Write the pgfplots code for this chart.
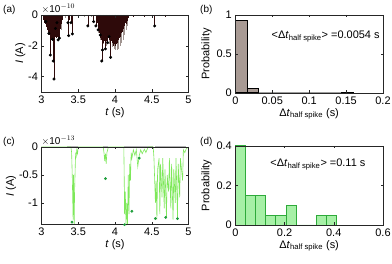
\documentclass[border=0pt]{standalone}
\usepackage{pgfplots}
\pgfplotsset{compat=1.18}
\usepackage{amsmath}
\usepackage{fontspec}
\setmainfont{Liberation Sans}
\definecolor{axgray}{HTML}{262626}
\definecolor{darkbrown}{HTML}{2E0A0A}
\definecolor{greybrown}{HTML}{A09490}
\definecolor{barb}{HTML}{A89A94}
\definecolor{lgreen}{HTML}{7EE85A}
\definecolor{dgreen}{HTML}{1E9E3C}
\definecolor{barg}{HTML}{A6F0A6}
\definecolor{edgeg}{HTML}{2EAA3A}
\pgfplotsset{
  myax/.style={
    scale only axis,
    anchor=south west,
    axis line style={axgray, line width=0.5pt},
    tick style={axgray, line width=0.4pt},
    tick align=inside,
    major tick length=2.5bp,
    xtick pos=both, ytick pos=both,
    tick label style={font=\fontsize{11}{12}\selectfont, black},
    label style={font=\fontsize{11}{12}\selectfont, black},
    /pgf/number format/assume math mode=true,
    scaled ticks=false,
    clip=false,
    axis on top,
  }
}
\begin{document}
\begin{tikzpicture}[x=1bp,y=1bp]
\useasboundingbox (0,0) rectangle (392,264);
% ---------------- (a)
\begin{axis}[myax, at={(41.5bp,172bp)}, width=147bp, height=77bp,
  xmin=3, xmax=5, ymin=-5, ymax=0,
  xtick={3,3.5,4,4.5,5}, xticklabels={3,3.5,4,4.5,5},
  ytick={-4,-2,0}, yticklabels={-4,-2,0},
  xlabel={\textit{t} (s)}, ylabel={\textit{I} (A)},
  xlabel style={yshift=3bp}, ylabel style={yshift=-4bp}]
\addplot[greybrown, line width=0.9pt, ycomb] coordinates {
(3.78,-1.2)(3.80,-1.6)(3.84,-1.9)(3.88,-2.0)(3.92,-1.9)(3.96,-2.1)(3.99,-2.2)(4.01,-2.3)(4.03,-2.3)(4.05,-2.2)(4.07,-2.0)(4.09,-1.8)(4.11,-1.6)(4.13,-1.3)(4.15,-1.0)(4.17,-0.7)(3.10,-1.3)(3.14,-1.6)(3.20,-1.5)(3.24,-1.6)(3.27,-1.0)(3.33,-0.2)(3.50,-0.1)(3.58,-0.15)(3.68,-0.1)};
\addplot[darkbrown, line width=0.45pt, ycomb] coordinates {
(3.03,-0.3)(3.04,-0.5)(3.045,-0.2)(3.05,-0.6)(3.06,-0.43)(3.065,-0.8)(3.07,-0.5)(3.075,-0.9)(3.08,-1.0)(3.085,-0.7)(3.09,-1.1)(3.095,-0.9)(3.10,-1.19)(3.105,-1.3)(3.11,-1.0)(3.115,-1.4)(3.12,-2.6)(3.125,-1.5)(3.13,-1.2)(3.135,-1.6)(3.14,-1.3)(3.145,-1.5)(3.15,-1.58)(3.155,-2.0)(3.16,-2.99)(3.165,-1.8)(3.17,-4.16)(3.175,-1.6)(3.18,-1.4)(3.185,-1.2)(3.19,-0.87)(3.195,-1.3)(3.20,-1.5)(3.205,-1.1)(3.21,-0.5)(3.215,-1.2)(3.22,-1.4)(3.225,-1.62)(3.23,-1.1)(3.235,-1.3)(3.24,-1.0)(3.245,-1.5)(3.25,-0.9)(3.255,-0.7)(3.26,-0.8)(3.265,-0.5)(3.27,-0.6)(3.275,-0.4)(3.28,-0.3)
(3.36,-0.5)(3.37,-1.34)(3.38,-0.3)(3.40,-0.5)(3.42,-1.23)(3.63,-0.71)(3.71,-0.43)(3.74,-0.71)
(3.76,-0.5)(3.77,-0.97)(3.775,-0.6)(3.78,-1.1)(3.785,-0.8)(3.79,-1.2)(3.795,-0.9)(3.80,-1.3)(3.805,-1.5)(3.81,-1.1)(3.815,-1.6)(3.82,-2.99)(3.825,-1.4)(3.83,-2.27)(3.835,-1.7)(3.84,-1.3)(3.845,-1.8)(3.85,-1.6)(3.855,-1.2)(3.86,-1.7)(3.865,-1.4)(3.87,-2.2)(3.875,-1.5)(3.88,-1.3)(3.885,-1.7)(3.89,-1.4)(3.895,-1.6)(3.90,-1.8)(3.905,-1.3)(3.91,-1.5)(3.915,-1.2)(3.92,-1.4)(3.925,-1.6)(3.93,-1.3)(3.935,-1.5)(3.94,-2.75)(3.945,-1.4)(3.95,-1.7)(3.955,-1.5)(3.96,-1.8)(3.965,-1.6)(3.97,-1.9)(3.975,-1.7)(3.98,-2.0)(3.985,-1.8)(3.99,-1.9)(3.995,-1.6)(4.00,-2.0)(4.005,-1.8)(4.01,-1.7)(4.015,-1.9)(4.02,-1.6)(4.025,-1.8)(4.03,-1.5)(4.035,-1.7)(4.04,-1.4)(4.045,-1.6)(4.05,-1.3)(4.055,-1.5)(4.06,-1.2)(4.065,-1.4)(4.07,-1.1)(4.075,-1.3)(4.08,-1.0)(4.085,-1.2)(4.09,-0.9)(4.095,-1.1)(4.10,-0.8)(4.105,-1.0)(4.11,-0.7)(4.115,-0.9)(4.12,-0.6)(4.13,-0.7)(4.14,-0.5)(4.15,-0.6)(4.16,-0.4)(4.17,-0.3)(4.18,-0.2)
(4.25,-0.1)(4.32,-0.05)(4.40,-0.1)(4.54,-0.71)(4.60,-0.08)(4.68,-0.1)};
\addplot[darkbrown, line width=0.6pt] coordinates {(3,0)(5,0)};
\addplot[only marks, mark=*, mark size=1.3bp, black] coordinates {
(3.06,-0.43)(3.10,-1.19)(3.12,-2.6)(3.15,-1.58)(3.16,-2.99)(3.17,-4.16)(3.19,-0.87)(3.21,-0.5)(3.225,-1.62)(3.245,-1.5)
(3.36,-0.5)(3.37,-1.34)(3.40,-0.5)(3.42,-1.23)(3.63,-0.71)(3.71,-0.43)(3.74,-0.71)(3.77,-0.97)(3.80,-1.3)
(3.82,-2.99)(3.83,-2.27)(3.87,-2.2)(3.90,-1.8)(3.92,-1.4)(3.94,-2.75)(4.54,-0.71)};
\node[anchor=south west, inner sep=0pt, font=\fontsize{10}{11}\selectfont] at (rel axis cs:0,1.02) {$\times$10$^{-10}$};
\end{axis}
\node[anchor=north west, inner sep=0pt, font=\fontsize{10}{11}\selectfont] at (3,259) {(a)};
% ---------------- (b)
\begin{axis}[myax, at={(235.3bp,171bp)}, width=147.7bp, height=78bp,
  xmin=0, xmax=0.2, ymin=0, ymax=1,
  xtick={0,0.05,0.1,0.15,0.2}, xticklabels={0,0.05,0.1,0.15,0.2},
  ytick={0,0.5,1}, yticklabels={0,0.5,1},
  xlabel={Δ\textit{t}$_{\text{half spike}}$ (s)}, ylabel={Probability},
  xlabel style={yshift=3bp}, ylabel style={yshift=-2bp}]
\addplot[ybar interval, fill=barb, draw=black, line width=1pt] coordinates {
(0,0.928)(0.016,0.064)(0.032,0)(0.048,0)(0.064,0)(0.080,0)(0.096,0)(0.112,0)(0.128,0)(0.144,0.008)(0.160,0.008)};
\node[anchor=west, inner sep=0pt, font=\fontsize{11}{12}\selectfont] at (axis cs:0.049,0.72) {<Δ\textit{t}$_{\text{half spike}}$> =0.0054 s};
\end{axis}
\node[anchor=north west, inner sep=0pt, font=\fontsize{10}{11}\selectfont] at (200,259) {(b)};
% ---------------- (c)
\begin{axis}[myax, at={(41.5bp,39.3bp)}, width=147bp, height=77.7bp,
  xmin=3, xmax=5, ymin=-1.39, ymax=0,
  xtick={3,3.5,4,4.5,5}, xticklabels={3,3.5,4,4.5,5},
  ytick={-1,-0.5,0}, yticklabels={-1,-0.5,0},
  xlabel={\textit{t} (s)}, ylabel={\textit{I} (A)},
  xlabel style={yshift=3bp}, ylabel style={yshift=-4bp}]
\addplot[gray!60, line width=2pt, unbounded coords=jump] coordinates {
(3.35,0)(3.50,0)(nan,nan)(3.84,0)(3.91,0)(nan,nan)(4.12,0)(4.52,0)(nan,nan)(4.55,0)(4.97,0)};
\addplot[lgreen, line width=0.6pt] coordinates {
(3.0,0)(3.40,0)(3.41,-0.1)(3.42,-0.6)(3.43,-1.3)(3.435,-0.5)(3.44,-1.0)(3.445,-1.38)(3.45,-0.8)(3.46,-0.3)(3.465,-0.1)(3.47,-0.2)(3.48,-0.05)(3.49,-0.12)(3.50,0)
(3.84,0)(3.85,-0.1)(3.86,-0.25)(3.87,-0.12)(3.88,-0.3)(3.89,-0.1)(3.90,-0.05)(3.91,0)
(4.12,0)(4.125,-0.5)(4.13,-1.2)(4.14,-0.8)(4.15,-1.4)(4.16,-1.0)(4.17,-1.39)(4.18,-0.5)(4.19,-1.2)(4.20,-0.3)(4.21,-0.6)(4.22,-0.1)(4.23,-0.2)(4.25,-0.05)(4.27,-0.15)(4.29,-0.05)(4.31,-0.35)(4.33,-0.15)(4.35,-0.05)(4.37,-0.12)(4.40,-0.04)(4.42,-0.1)(4.45,0)(4.52,0)
(4.53,-0.2)(4.55,-1.0)(4.56,-0.6)(4.57,-1.3)(4.58,-0.4)(4.60,-0.2)(4.61,-1.2)(4.62,-0.3)(4.64,-0.9)(4.65,-0.2)(4.67,-1.1)(4.68,-0.4)(4.70,-1.25)(4.71,-0.5)(4.73,-0.8)(4.74,-0.2)(4.76,-1.1)(4.77,-0.3)(4.79,-1.3)(4.80,-0.4)(4.82,-1.0)(4.83,-0.2)(4.85,-1.25)(4.86,-0.3)(4.88,-0.9)(4.89,-0.2)(4.92,-0.6)(4.93,-0.05)(4.95,-0.1)(4.97,-0.03)(5.0,0)};
\addplot[only marks, mark=*, mark size=1.2bp, dgreen] coordinates {
(3.415,-1.345)(3.87,-0.565)(4.13,-1.39)(4.23,-1.15)(4.33,-0.2)(4.55,-1.28)(4.69,-1.26)(4.85,-1.28)};
\node[anchor=south west, inner sep=0pt, font=\fontsize{10}{11}\selectfont] at (rel axis cs:0,1.02) {$\times$10$^{-13}$};
\end{axis}
\node[anchor=north west, inner sep=0pt, font=\fontsize{10}{11}\selectfont] at (3,127) {(c)};
% ---------------- (d)
\begin{axis}[myax, at={(235.3bp,39bp)}, width=147.7bp, height=79bp,
  xmin=0, xmax=0.6, ymin=0, ymax=0.4,
  xtick={0,0.2,0.4,0.6}, xticklabels={0,0.2,0.4,0.6},
  ytick={0,0.2,0.4}, yticklabels={0,0.2,0.4},
  xlabel={Δ\textit{t}$_{\text{half spike}}$ (s)}, ylabel={Probability},
  xlabel style={yshift=3bp}, ylabel style={yshift=-2bp}]
\addplot[ybar interval, fill=barg, draw=edgeg, line width=1pt] coordinates {
(0,0.4)(0.0412,0.15)(0.0824,0.15)(0.1236,0.05)(0.1648,0.05)(0.206,0.1)(0.2472,0)(0.2884,0)(0.3296,0.05)(0.3708,0.05)(0.412,0.05)};
\node[anchor=west, inner sep=0pt, font=\fontsize{11}{12}\selectfont] at (axis cs:0.142,0.305) {<Δ\textit{t}$_{\text{half spike}}$> =0.11 s};
\end{axis}
\node[anchor=north west, inner sep=0pt, font=\fontsize{10}{11}\selectfont] at (200,127) {(d)};
\end{tikzpicture}
\end{document}
